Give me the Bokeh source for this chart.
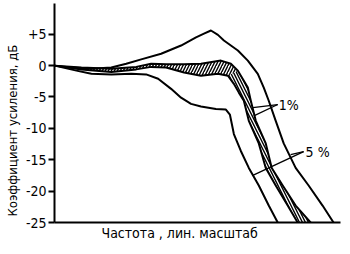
from bokeh.plotting import figure
from bokeh.models import Label, FixedTicker, Title
from bokeh.embed import file_html
from bokeh.resources import INLINE

FONT = "DejaVu Sans Condensed"

# frequency (linear, arbitrary units) and gain (dB)
a_x = [0, 17, 37, 57, 72, 87, 107, 127, 142, 150, 157, 164, 170, 184, 194, 204, 210, 215, 222, 230, 242, 255, 269, 280]
a_y = [0, -0.3, -0.5, -0.3, 0.3, 1.0, 1.9, 3.2, 4.5, 5.1, 5.6, 4.9, 4.0, 2.4, 0.8, -1.3, -3.5, -5.6, -8.8, -12.4, -16.3, -19.1, -22.3, -25]

b_x = [0, 22, 37, 57, 77, 92, 104, 117, 127, 137, 147, 162, 172, 176, 180, 187, 195, 205, 215, 224]
b_y = [0, -0.8, -1.3, -1.4, -1.3, -1.4, -2.1, -3.7, -5.1, -6.1, -6.5, -6.9, -7.0, -7.8, -10.9, -13.6, -16.3, -19.1, -22.3, -25]

c_x = [0, 27, 57, 82, 97, 112, 130, 147, 167, 177, 184, 190, 194, 197, 202, 212, 218, 229, 242, 257]
c_y = [0, -0.3, -0.5, -0.2, 0.3, 0.2, 0.2, 0.3, 0.8, 0.3, -0.8, -2.4, -3.5, -5.6, -8.8, -12.4, -16.3, -19.1, -22.3, -25]

d_x = [0, 27, 57, 82, 97, 112, 130, 147, 164, 174, 180, 185, 190, 195, 205, 212, 222, 234, 244]
d_y = [0, -0.6, -1.0, -0.6, -0.2, -0.3, -1.1, -1.6, -1.3, -1.6, -2.9, -4.3, -5.6, -8.8, -12.4, -16.3, -19.1, -22.3, -25]

y_ticks = [-25, -20, -15, -10, -5, 0, 5]
y_tick_labels = ["-25", "-20", "-15", "-10", "-5", "0", "+5"]

y_title = "Коэффициент усиления, дБ"
x_title = "Частота , лин. масштаб"

# annotation labels: (text, x, y) and leader lines
ann_1 = ("1%", 225, -6.2)
lead_1 = [((224, -6.2), (199, -6.7)), ((224, -6.2), (200, -8.0))]
ann_5 = ("5 %", 252, -13.8)
lead_5 = [((250, -13.7), (237, -14.2)), ((250, -13.7), (199, -17.5))]

p = figure(width=350, height=254, x_range=(0, 287), y_range=(-25, 9.9),
           output_backend="svg", toolbar_location=None,
           min_border_left=53, min_border_right=10, min_border_top=3, min_border_bottom=32)
p.outline_line_color = None
p.grid.visible = False
p.background_fill_color = "white"
p.border_fill_color = "white"

# axes
p.yaxis.ticker = FixedTicker(ticks=y_ticks)
p.yaxis.major_label_overrides = {t: l for t, l in zip(y_ticks, y_tick_labels)}
p.yaxis.major_label_text_font = FONT
p.yaxis.major_label_text_font_size = "14px"
p.yaxis.major_label_text_color = "black"
p.yaxis.major_label_standoff = 2
p.yaxis.axis_line_width = 2
p.yaxis.major_tick_line_width = 2
p.yaxis.major_tick_out = 6
p.yaxis.major_tick_in = 0
p.yaxis.minor_tick_line_color = None
p.yaxis.axis_line_color = "black"
p.yaxis.major_tick_line_color = "black"

p.xaxis.ticker = FixedTicker(ticks=[])
p.xaxis.axis_line_width = 2
p.xaxis.axis_line_color = "black"
p.xaxis.major_tick_line_color = None
p.xaxis.minor_tick_line_color = None
p.xaxis.major_tick_out = 0

# axis titles
p.add_layout(Title(text=y_title, align="left", offset=6, text_font=FONT,
                   text_font_size="13px", text_font_style="normal",
                   text_color="black", standoff=5), "left")
p.add_layout(Title(text=x_title, align="left", offset=47, text_font=FONT,
                   text_font_size="14px", text_font_style="normal",
                   text_color="black", standoff=0), "below")

# hatched band, split into flat and falling part
k1, k2 = 11, 10
poly1_x = c_x[:k1] + d_x[:k2][::-1]
poly1_y = c_y[:k1] + d_y[:k2][::-1]
poly2_x = c_x[k1 - 1:] + d_x[k2 - 1:][::-1]
poly2_y = c_y[k1 - 1:] + d_y[k2 - 1:][::-1]
p.patch(poly1_x, poly1_y, fill_color=None, line_color=None,
        hatch_pattern="/", hatch_color="black", hatch_scale=6, hatch_weight=1.4)
p.patch(poly2_x, poly2_y, fill_color=None, line_color=None,
        hatch_pattern="\\", hatch_color="black", hatch_scale=6, hatch_weight=1.4)

for xs, ys in [(a_x, a_y), (b_x, b_y), (c_x, c_y), (d_x, d_y)]:
    p.line(xs, ys, line_color="black", line_width=2, line_join="round", line_cap="round")

for (x0, y0), (x1, y1) in lead_1 + lead_5:
    p.line([x0, x1], [y0, y1], line_color="black", line_width=1.3)

for text, x, y in [ann_1, ann_5]:
    p.add_layout(Label(x=x, y=y, text=text, text_font=FONT, text_font_size="14px",
                       text_color="black", text_baseline="middle", text_align="left"))

open("out.html", "w").write(file_html(p, INLINE))
